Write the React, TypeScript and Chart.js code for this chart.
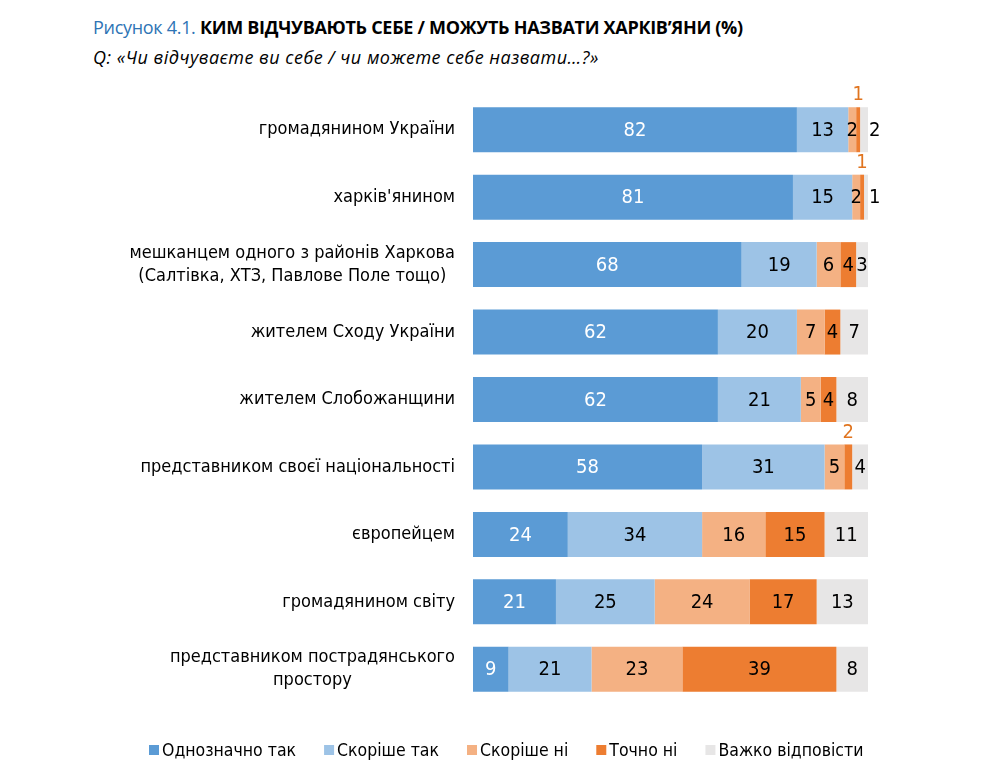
import React, { useEffect, useRef } from "react";
import { Chart, registerables } from "chart.js";

Chart.register(...registerables);

const categories: (string | string[])[] = [
  "громадянином України",
  "харків'янином",
  ["мешканцем одного з районів Харкова", "(Салтівка, ХТЗ, Павлове Поле тощо)"],
  "жителем Сходу України",
  "жителем Слобожанщини",
  "представником своєї національності",
  "європейцем",
  "громадянином світу",
  ["представником пострадянського", "простору"],
];

const seriesNames = ["Однозначно так", "Скоріше так", "Скоріше ні", "Точно ні", "Важко відповісти"];
const odnoznachnoTak = [82, 81, 68, 62, 62, 58, 24, 21, 9];
const skorisheTak = [13, 15, 19, 20, 21, 31, 34, 25, 21];
const skorisheNi = [2, 2, 6, 7, 5, 5, 16, 24, 23];
const tochnoNi = [1, 1, 4, 4, 4, 2, 15, 17, 39];
const vazhko = [2, 1, 3, 7, 8, 4, 11, 13, 8];

const colors = ["#5B9BD5", "#9DC3E6", "#F4B183", "#ED7D31", "#E7E6E6"];
const FONT = "'Liberation Sans Narrow', 'DejaVu Sans Condensed', 'Roboto', sans-serif";

const customDraw = {
  id: "customDraw",
  afterDatasetsDraw(chart: any) {
    const ctx = chart.ctx;
    const area = chart.chartArea;
    const yScale = chart.scales.y;
    ctx.save();
    // category labels
    ctx.font = `18px ${FONT}`;
    ctx.fillStyle = "#000";
    ctx.textBaseline = "middle";
    ctx.textAlign = "center";
    const right = area.left - 18;
    categories.forEach((cat, i) => {
      const lines = Array.isArray(cat) ? cat : [cat];
      const maxW = Math.max(...lines.map((l) => ctx.measureText(l).width));
      const cx = right - maxW / 2;
      const y0 = yScale.getPixelForValue(i);
      const lh = 23;
      lines.forEach((l, k) => {
        ctx.fillText(l, cx, y0 + (k - (lines.length - 1) / 2) * lh);
      });
    });
    // value labels
    ctx.font = `20px ${FONT}`;
    chart.data.datasets.forEach((ds: any, di: number) => {
      const meta = chart.getDatasetMeta(di);
      meta.data.forEach((bar: any, i: number) => {
        const v = ds.data[i];
        const cx = (bar.x + bar.base) / 2;
        if (di === 3 && v <= 2) {
          ctx.fillStyle = "#E0741F";
          ctx.textAlign = "center";
          ctx.fillText(String(v), cx, bar.y - bar.height / 2 - 12);
        } else if (di === 4 && v <= 2) {
          ctx.fillStyle = "#000";
          ctx.textAlign = "left";
          ctx.fillText(String(v), bar.x + 1, bar.y + 1);
        } else {
          ctx.fillStyle = di === 0 ? "#FFFFFF" : "#000";
          ctx.textAlign = "center";
          ctx.fillText(String(v), cx, bar.y + 1);
        }
      });
    });
    // legend
    ctx.font = `17.5px ${FONT}`;
    ctx.textAlign = "left";
    const legendY = 750;
    const gap = 28;
    let x = 149;
    seriesNames.forEach((n, i) => {
      ctx.fillStyle = colors[i];
      ctx.fillRect(x, legendY - 5, 10, 10);
      ctx.fillStyle = "#000";
      ctx.fillText(n, x + 13, legendY + 1);
      x += 13 + ctx.measureText(n).width + gap;
    });
    ctx.restore();
  },
};

export default function App() {
  const ref = useRef<HTMLCanvasElement>(null);
  useEffect(() => {
    if (!ref.current) return;
    const seriesData = [odnoznachnoTak, skorisheTak, skorisheNi, tochnoNi, vazhko];
    const chart = new Chart(ref.current, {
      type: "bar",
      data: {
        labels: categories as any,
        datasets: seriesNames.map((name, i) => ({
          label: name,
          data: seriesData[i],
          backgroundColor: colors[i],
          borderWidth: 0,
          categoryPercentage: 1,
          barPercentage: 0.667,
        })),
      },
      options: {
        indexAxis: "y",
        animation: false,
        responsive: false,
        layout: { padding: { left: 473, right: 132, top: 96, bottom: 73 } },
        plugins: { legend: { display: false }, tooltip: { enabled: false }, title: { display: false } },
        scales: {
          x: { stacked: true, min: 0, max: 100, display: false },
          y: { stacked: true, display: false },
        },
      },
      plugins: [customDraw],
    });
    return () => chart.destroy();
  }, []);
  return (
    <div style={{ position: "absolute", left: 0, top: 0, width: 1000, height: 776, background: "#fff" }}>
      <div
        style={{
          position: "absolute",
          left: 93,
          top: 14,
          fontFamily: "'Open Sans', sans-serif",
          fontSize: 18,
          lineHeight: "26px",
          whiteSpace: "nowrap",
          letterSpacing: -0.3,
        }}
      >
        <span style={{ color: "#2E74B5" }}>Рисунок 4.1. </span>
        <span style={{ color: "#000", fontWeight: 700 }}>КИМ ВІДЧУВАЮТЬ СЕБЕ / МОЖУТЬ НАЗВАТИ ХАРКІВ’ЯНИ (%)</span>
      </div>
      <div
        style={{
          position: "absolute",
          left: 93,
          top: 44,
          fontFamily: "'Open Sans', sans-serif",
          fontSize: 18,
          lineHeight: "26px",
          fontStyle: "italic",
          whiteSpace: "nowrap",
          letterSpacing: 0.5,
          color: "#000",
        }}
      >
        Q: «Чи відчуваєте ви себе / чи можете себе назвати…?»
      </div>
      <canvas ref={ref} width={1000} height={776} style={{ position: "absolute", left: 0, top: 0 }} />
    </div>
  );
}
